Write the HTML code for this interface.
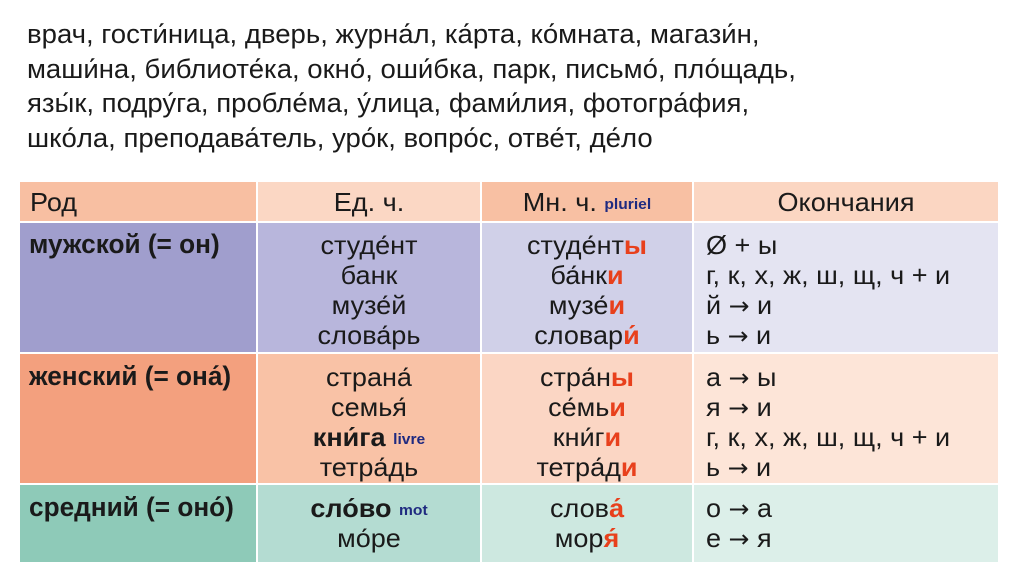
<!DOCTYPE html>
<html><head><meta charset="utf-8"><style>
body{margin:0;width:1024px;height:574px;background:#fff;position:relative;overflow:hidden;font-family:"Liberation Sans","DejaVu Sans",sans-serif;color:#1a1a1a}
.intro{position:absolute;left:27px;top:17px;font-size:27px;line-height:34.5px;white-space:nowrap}
.intro div{transform:scaleX(1.02);transform-origin:left}
.c{position:absolute;box-sizing:border-box}
.t{position:absolute;font-size:26px;line-height:30px;white-space:nowrap;transform:scaleX(1.04)}
.ctr{text-align:center;transform-origin:center}
.lft{transform-origin:left}
.lab{font-size:27px;font-weight:bold;transform:scaleX(0.97)}
.r{color:#e8401c;font-weight:bold}
.sm{color:#1f2a80;font-size:15px;font-weight:bold;line-height:0;vertical-align:2px}
.ar{font-family:"DejaVu Sans",sans-serif;font-size:24px;line-height:0}
b{font-weight:bold}
</style></head><body>
<div class="intro">
<div>врач, гости́ница, дверь, журна́л, ка́рта, ко́мната, магази́н,</div>
<div>маши́на, библиоте́ка, окно́, оши́бка, парк, письмо́, пло́щадь,</div>
<div>язы́к, подру́га, пробле́ма, у́лица, фами́лия, фотогра́фия,</div>
<div>шко́ла, преподава́тель, уро́к, вопро́с, отве́т, де́ло</div>
</div>
<div>
<div class="c" style="left:20px;top:182px;width:236px;height:39px;background:#f8bfa2"></div>
<div class="c" style="left:258px;top:182px;width:222px;height:39px;background:#fbd7c4"></div>
<div class="c" style="left:482px;top:182px;width:210px;height:39px;background:#f8c0a3"></div>
<div class="c" style="left:694px;top:182px;width:304px;height:39px;background:#fbd6c2"></div>
<div class="c" style="left:20px;top:223px;width:236px;height:129px;background:#a09ecd"></div>
<div class="c" style="left:258px;top:223px;width:222px;height:129px;background:#b8b6dc"></div>
<div class="c" style="left:482px;top:223px;width:210px;height:129px;background:#d0d0e8"></div>
<div class="c" style="left:694px;top:223px;width:304px;height:129px;background:#e4e4f2"></div>
<div class="c" style="left:20px;top:354px;width:236px;height:129px;background:#f3a07e"></div>
<div class="c" style="left:258px;top:354px;width:222px;height:129px;background:#f9c2a6"></div>
<div class="c" style="left:482px;top:354px;width:210px;height:129px;background:#fbd6c4"></div>
<div class="c" style="left:694px;top:354px;width:304px;height:129px;background:#fde5d8"></div>
<div class="c" style="left:20px;top:485px;width:236px;height:77px;background:#8ecab8"></div>
<div class="c" style="left:258px;top:485px;width:222px;height:77px;background:#b4dcd2"></div>
<div class="c" style="left:482px;top:485px;width:210px;height:77px;background:#cde8e0"></div>
<div class="c" style="left:694px;top:485px;width:304px;height:77px;background:#dcefe9"></div>

<div class="t lft" style="left:30px;top:187px">Род</div>
<div class="t ctr" style="left:258px;top:187px;width:222px">Ед. ч.</div>
<div class="t ctr" style="left:482px;top:187px;width:210px">Мн. ч. <span class="sm">pluriel</span></div>
<div class="t ctr" style="left:694px;top:187px;width:304px">Окончания</div>

<div class="t lft lab" style="left:29px;top:229px">мужской (= он)</div>
<div class="t ctr" style="left:258px;top:230px;width:222px">студе́нт<br>банк<br>музе́й<br>слова́рь</div>
<div class="t ctr" style="left:482px;top:230px;width:210px">студе́нт<span class="r">ы</span><br>ба́нк<span class="r">и</span><br>музе́<span class="r">и</span><br>словар<span class="r">и́</span></div>
<div class="t lft" style="left:706px;top:230px">Ø + ы<br>г, к, х, ж, ш, щ, ч + и<br>й <span class="ar">→</span> и<br>ь <span class="ar">→</span> и</div>

<div class="t lft lab" style="left:29px;top:361px">женский (= она́)</div>
<div class="t ctr" style="left:258px;top:362px;width:222px">страна́<br>семья́<br><b>кни́га</b> <span class="sm">livre</span><br>тетра́дь</div>
<div class="t ctr" style="left:482px;top:362px;width:210px">стра́н<span class="r">ы</span><br>се́мь<span class="r">и</span><br>кни́г<span class="r">и</span><br>тетра́д<span class="r">и</span></div>
<div class="t lft" style="left:706px;top:362px">а <span class="ar">→</span> ы<br>я <span class="ar">→</span> и<br>г, к, х, ж, ш, щ, ч + и<br>ь <span class="ar">→</span> и</div>

<div class="t lft lab" style="left:29px;top:492px">средний (= оно́)</div>
<div class="t ctr" style="left:258px;top:493px;width:222px"><b>сло́во</b> <span class="sm">mot</span><br>мо́ре</div>
<div class="t ctr" style="left:482px;top:493px;width:210px">слов<span class="r">а́</span><br>мор<span class="r">я́</span></div>
<div class="t lft" style="left:706px;top:493px">о <span class="ar">→</span> а<br>е <span class="ar">→</span> я</div>
</div>
</body></html>
